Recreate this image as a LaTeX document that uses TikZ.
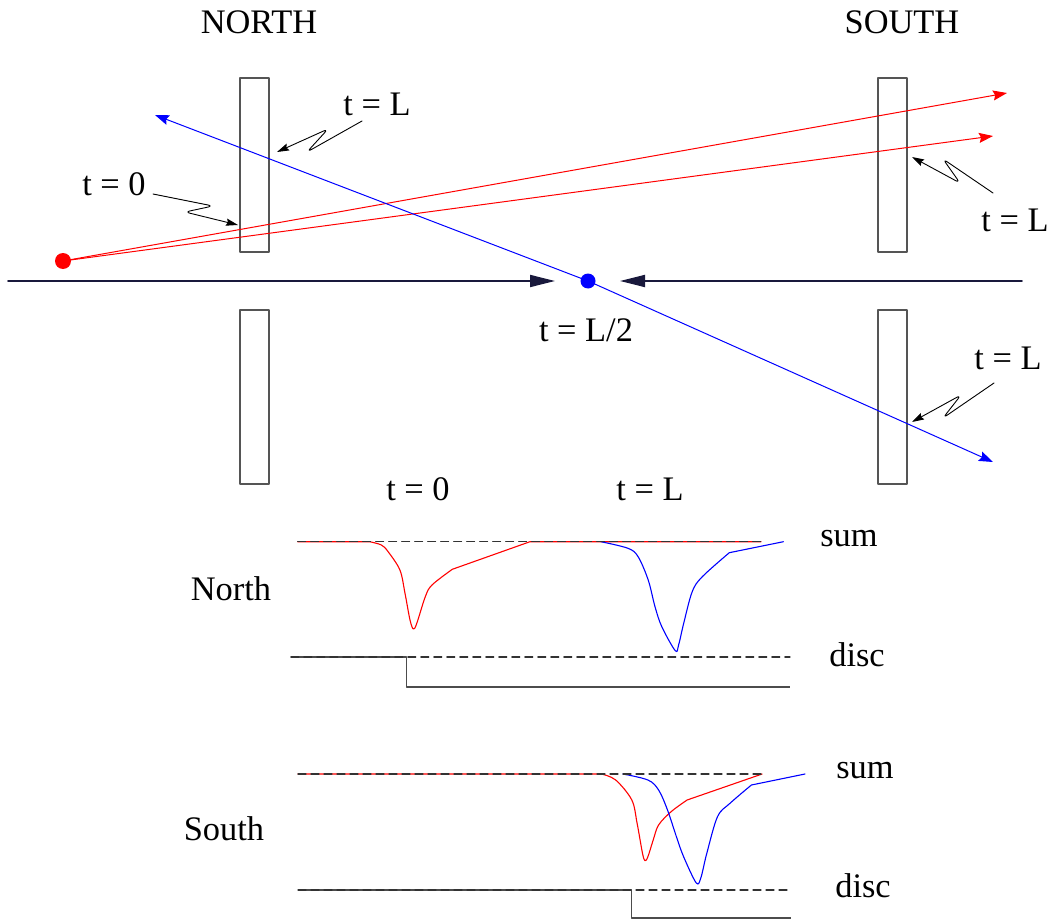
\documentclass[tikz,border=0pt]{standalone}
\usepackage{fontspec}
\setmainfont{Liberation Serif}
\usetikzlibrary{arrows.meta}

\begin{document}
\begin{tikzpicture}[x=0.5pt, y=-0.5pt, line cap=round, line join=round,
  every node/.style={font=\fontsize{17.2}{20}\selectfont, inner sep=0pt},
  plate/.style={draw=plategray, line width=0.6pt},
  ray/.style={line width=0.5pt, -{Stealth[length=7pt,width=5pt,inset=1pt]}},
  leader/.style={line width=0.45pt, rounded corners=2.5pt, -{Stealth[length=6pt,width=3.6pt,inset=0.8pt]}},
  beamline/.style={draw=beamnavy, line width=0.9pt, -{Triangle[length=12.5pt,width=6pt]}},
  trace/.style={line width=0.55pt},
  baseln/.style={draw=black!80, line width=0.55pt, dash pattern=on 4pt off 2.5pt},
  stepline/.style={draw=black!70, line width=0.55pt, line cap=butt}]
  \definecolor{plategray}{RGB}{85,85,85}
  \definecolor{beamnavy}{RGB}{25,25,60}
  \useasboundingbox (0,0) rectangle (1055,920);

  % headers
  \node (hdNorth) at (259,22) {NORTH};
  \node (hdSouth) at (902,22) {SOUTH};

  % counters
  \draw[plate] (240,78) rectangle (269,252);
  \draw[plate] (240,310) rectangle (269,484);
  \draw[plate] (878,78) rectangle (907,252);
  \draw[plate] (878,310) rectangle (907,484);

  % beam axis
  \coordinate (axW) at (8,281);
  \coordinate (axE) at (1022,281);
  \coordinate (axTipW) at (555,281);
  \coordinate (axTipE) at (620,281);
  \draw[beamline] (axW) -- (axTipW);
  \draw[beamline] (axE) -- (axTipE);

  % particles
  \node[circle, fill=red, minimum size=8pt] (src) at (63,261) {};
  \coordinate (redTipA) at (1007,93);
  \coordinate (redTipB) at (993,136);
  \draw[ray, red] (src.center) -- (redTipA);
  \draw[ray, red] (src.center) -- (redTipB);

  \node[circle, fill=blue, minimum size=7.5pt] (vtx) at (588,281) {};
  \coordinate (blueTipW) at (155,115);
  \coordinate (blueTipE) at (993,462);
  \draw[ray, blue] (vtx.center) -- (blueTipW);
  \draw[ray, blue] (vtx.center) -- (blueTipE);
  \node (tHalf) at (586,330) {t = L/2};

  % time labels with leaders
  \node (tZero) at (114,184) {t = 0};
  \coordinate (tZeroTip) at (238,225);
  \draw[leader] (153,194) -- (213,206) -- (185,212) -- (tZeroTip);

  \node (tNorthL) at (377,104) {t = L};
  \coordinate (tNorthTip) at (277,152);
  \draw[leader] (362,121) -- (307,152) -- (328,129) -- (tNorthTip);

  \node (tSouthUp) at (1015,220) {t = L};
  \coordinate (tSouthUpTip) at (912,157);
  \draw[leader] (993,193) -- (943,159) -- (960,183) -- (tSouthUpTip);

  \node (tSouthLo) at (1008,358) {t = L};
  \coordinate (tSouthLoTip) at (912,422);
  \draw[leader] (994,383) -- (943,418) -- (961,395) -- (tSouthLoTip);

  % signal traces
  \node (sigT0) at (418,489) {t = 0};
  \node (sigTL) at (650,489) {t = L};
  \node (sigNorth) at (231,589) {North};
  \node (sigSouth) at (224,829) {South};
  \node (sumN) at (849,539) {sum};
  \node (discN) at (857,655) {disc};
  \node (sumS) at (865,771) {sum};
  \node (discS) at (863,886) {disc};

  % north
  \draw[trace, red] (297.6,541.7) -- (369.5,541.7) -- plot[smooth, tension=0.55] coordinates {(369.5,541.7) (381.4,545) (388.1,551.7) (399.9,570) (405,593.3) (410,620) (413.4,629) (416.8,623.3) (425.3,596.7) (432,585) (452.3,569.3)} -- (530,541.7) -- (761,541.7);
  \draw[trace, blue] plot[smooth, tension=0.55] coordinates {(600.9,541.7) (628,548.3) (638.1,556.7) (648.2,580) (655,606.7) (661.8,626.7) (675.3,650.7) (678.6,645) (683.7,623.3) (692.2,591.7) (702.3,576.7) (729.3,552.7)} -- (783.4,541.7);
  \draw[baseln] (297.6,541.7) -- (761,541.7);
  \draw[stepline] (290.8,657) -- (406.7,657) -- (406.7,687) -- (790,687);
  \draw[baseln] (290.8,657) -- (790,657);

  % south
  \draw[trace, red] (298,774) -- (601.4,774) -- plot[smooth, tension=0.55] coordinates {(601.4,774) (615.7,780) (631.8,800) (637.1,823.3) (642.5,853.3) (645,860.7) (647.9,856.7) (653.2,840) (658.6,825) (671.1,811.7) (687.1,800)} -- (762.1,774);
  \draw[trace, blue] plot[smooth, tension=0.55] coordinates {(622.9,774) (647.9,780) (658.6,790) (667.5,810) (676.4,836.7) (683.6,856.7) (696.1,882.7) (700.7,878.3) (706.8,853.3) (717.5,816.7) (730,803.3) (751.4,785)} -- (805,774);
  \draw[baseln] (298,774) -- (762,774);
  \draw[stepline] (298,890) -- (631.8,890) -- (631.8,918) -- (790.7,918);
  \draw[baseln] (298,890) -- (790.7,890);
\end{tikzpicture}
\end{document}
